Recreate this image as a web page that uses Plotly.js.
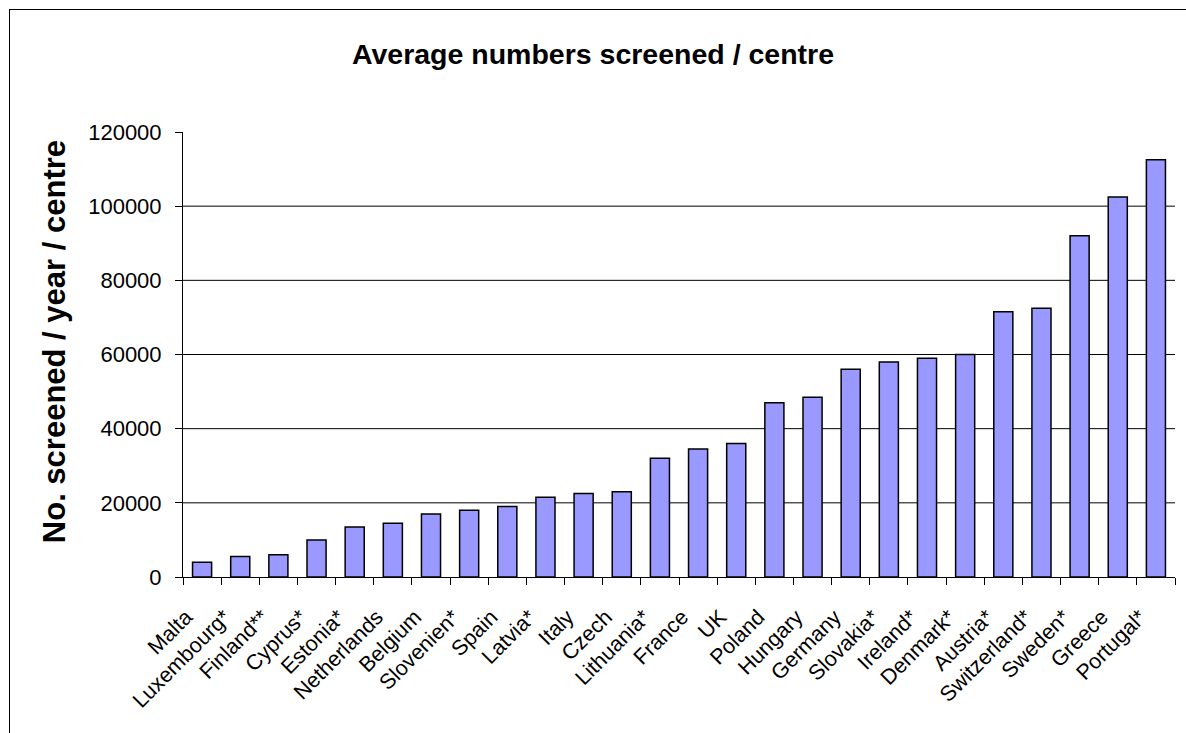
<!DOCTYPE html>
<html>
<head>
<meta charset="utf-8">
<script src="https://cdn.plot.ly/plotly-3.0.1.min.js"></script>
<style>
html, body { margin: 0; padding: 0; background: #fff; overflow: hidden; }
#chart { position: absolute; left: 0; top: 0; width: 1186px; height: 733px; }
#frame { position: absolute; left: 9px; top: 9px; width: 1300px; height: 900px; border: 1px solid #000; box-sizing: border-box; pointer-events: none; }
</style>
</head>
<body>
<div id="chart"></div>
<div id="frame"></div>
<script>
const countries = ["Malta", "Luxembourg*", "Finland**", "Cyprus*", "Estonia*", "Netherlands", "Belgium", "Slovenien*", "Spain", "Latvia*", "Italy", "Czech", "Lithuania*", "France", "UK", "Poland", "Hungary", "Germany", "Slovakia*", "Ireland*", "Denmark*", "Austria*", "Switzerland*", "Sweden*", "Greece", "Portugal*"];
const screened = [4000, 5500, 6000, 10000, 13500, 14500, 17000, 18000, 19000, 21500, 22500, 23000, 32000, 34500, 36000, 47000, 48500, 56000, 58000, 59000, 60000, 71500, 72500, 92000, 102500, 112500];
const yTickValues = [0, 20000, 40000, 60000, 80000, 100000, 120000];
const gridValues = [20000, 40000, 60000, 80000, 100000];

const FONT = "'Liberation Sans', Arial, Helvetica, sans-serif";

const trace = {
  type: "bar",
  x: countries,
  y: screened,
  width: 0.5,
  marker: { color: "#9999ff", line: { color: "#000000", width: 1.5 } },
  hoverinfo: "none"
};

const shapes = gridValues.map(v => ({
  type: "line", xref: "paper", x0: 0, x1: 1, yref: "y", y0: v, y1: v,
  line: { color: "#000000", width: 1 }, layer: "below"
}));

const layout = {
  width: 1186,
  height: 733,
  margin: { l: 183, r: 11, t: 132, b: 156 },
  paper_bgcolor: "#ffffff",
  plot_bgcolor: "#ffffff",
  showlegend: false,
  title: {
    text: "<b>Average numbers screened / centre</b>",
    font: { family: FONT, size: 28.5, color: "#000" },
    x: 0.5, xref: "container", xanchor: "center",
    y: 0.926, yref: "container", yanchor: "middle"
  },
  xaxis: {
    type: "category",
    tickson: "boundaries",
    ticks: "outside",
    ticklen: 7,
    tickcolor: "#000",
    showline: true,
    linecolor: "#000",
    linewidth: 1,
    showgrid: false,
    tickangle: -45,
    ticklabelshift: -16,
    ticklabelstandoff: 18,
    tickfont: { family: FONT, size: 21.5, color: "#000" },
    fixedrange: true
  },
  yaxis: {
    range: [0, 120000],
    tickvals: yTickValues,
    ticktext: yTickValues.map(String),
    ticks: "outside",
    ticklen: 7,
    tickcolor: "#000",
    showline: true,
    linecolor: "#000",
    linewidth: 1,
    showgrid: false,
    zeroline: false,
    ticklabelstandoff: 9,
    tickfont: { family: FONT, size: 22, color: "#000" },
    title: {
      text: "<b>\u00A0\u00A0\u00A0No. screened / year / centre</b>",
      font: { family: FONT, size: 31, color: "#000" },
      standoff: 13
    },
    fixedrange: true
  },
  shapes: shapes,
  bargap: 0.5,
  hovermode: false
};

Plotly.newPlot("chart", [trace], layout, { displayModeBar: false, staticPlot: true });
</script>
</body>
</html>
